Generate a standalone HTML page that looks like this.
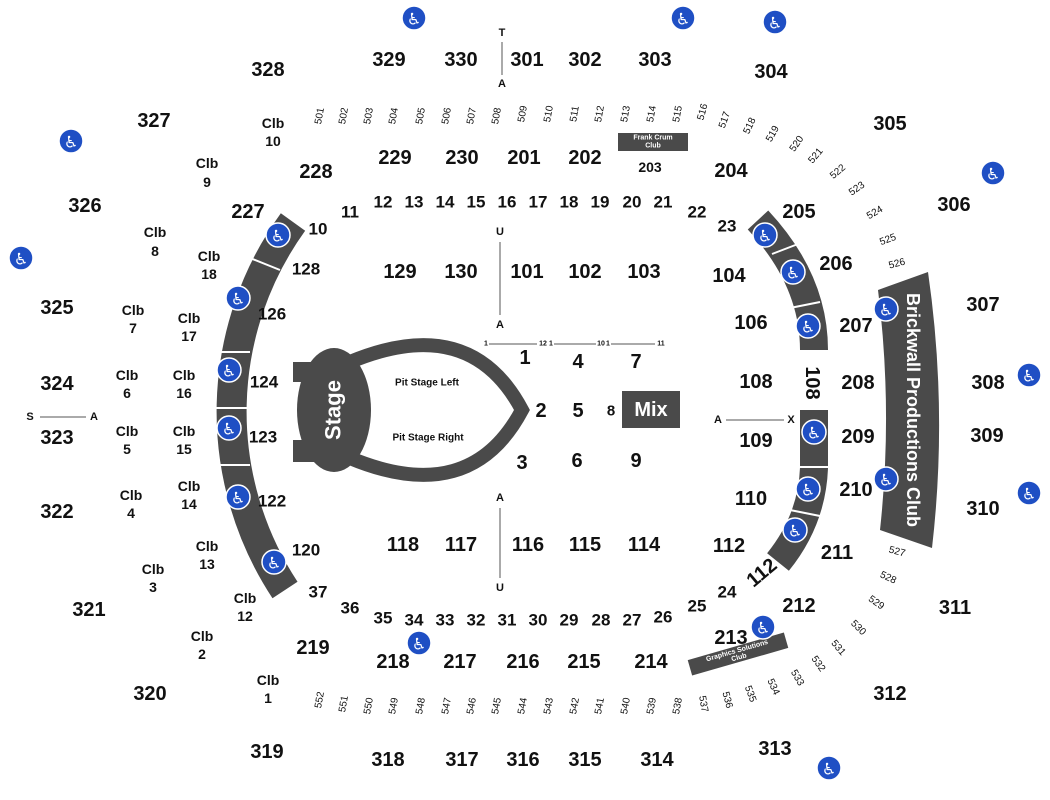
<!DOCTYPE html>
<html><head><meta charset="utf-8"><style>
body{margin:0;background:#fff}
svg{display:block;font-family:"Liberation Sans",Arial,sans-serif;font-weight:bold}
text{text-anchor:middle;dominant-baseline:central;fill:#111}
.b{font-size:20px}.m{font-size:17px}.s{font-size:14px}.x{font-size:10px;font-weight:normal}
.w{fill:#fff}
</style></head><body>
<svg width="1050" height="800" viewBox="0 0 1050 800" xmlns="http://www.w3.org/2000/svg">
<defs>
<g id="hc"><circle r="12" fill="#1f4fc4" stroke="#fff" stroke-width="1.5"/><text y="1" style="font-size:16px;font-weight:normal;fill:#fff;font-family:'DejaVu Sans',sans-serif">♿</text></g>
</defs>
<path d="M293 222 A324 324 0 0 0 285 590" fill="none" stroke="#4a4a4a" stroke-width="30"/>
<g stroke="#fff" stroke-width="2">
<line x1="250" y1="258" x2="280" y2="270"/><line x1="215" y1="352" x2="250" y2="352"/><line x1="215" y1="408" x2="250" y2="408"/><line x1="215" y1="465" x2="250" y2="465"/>
</g>
<path d="M758 220 Q814 280 814 350 M814 410 L814 468 Q812 520 778 562" fill="none" stroke="#4a4a4a" stroke-width="28"/>
<g stroke="#fff" stroke-width="2">
<line x1="772" y1="254" x2="798" y2="244"/><line x1="790" y1="308" x2="820" y2="302"/><line x1="798" y1="467" x2="830" y2="467"/><line x1="790" y1="510" x2="820" y2="516"/>
</g>
<path d="M878 290 L928 272 Q948 410 932 548 L880 530 Q893 410 878 290 Z" fill="#4a4a4a"/>
<text transform="translate(913,410) rotate(90)" class="m w" style="font-size:18px">Brickwall Productions Club</text>
<rect x="618" y="133" width="70" height="18" fill="#4a4a4a"/>
<text x="653" y="138" class="w" style="font-size:7px">Frank Crum</text><text x="653" y="146" class="w" style="font-size:7px">Club</text>
<g transform="translate(738,654) rotate(-16)"><rect x="-50" y="-8" width="100" height="16" fill="#4a4a4a"/>
<text y="-3" class="w" style="font-size:7px">Graphics Solutions</text><text y="4" class="w" style="font-size:7px">Club</text></g>
<path d="M350 362 Q470 312 522 410 Q470 508 350 458" fill="none" stroke="#4a4a4a" stroke-width="14"/>
<rect x="293" y="362" width="30" height="20" fill="#4a4a4a"/><rect x="293" y="440" width="30" height="22" fill="#4a4a4a"/>
<ellipse cx="334" cy="410" rx="37" ry="62" fill="#4a4a4a"/>
<text transform="translate(333,410) rotate(-90)" class="w" style="font-size:22px">Stage</text>
<text x="427" y="383" style="font-size:10px">Pit Stage Left</text>
<text x="428" y="438" style="font-size:10px">Pit Stage Right</text>
<rect x="622" y="391" width="58" height="37" fill="#4a4a4a"/><text x="651" y="410" class="w" style="font-size:20px">Mix</text>
<g stroke="#555" stroke-width="1">
<line x1="502" y1="42" x2="502" y2="75"/><line x1="500" y1="242" x2="500" y2="315"/><line x1="500" y1="508" x2="500" y2="578"/>
<line x1="40" y1="417" x2="86" y2="417"/><line x1="726" y1="420" x2="784" y2="420"/>
<line x1="489" y1="344" x2="537" y2="344"/><line x1="554" y1="344" x2="596" y2="344"/><line x1="611" y1="344" x2="655" y2="344"/>
</g>
<g style="font-size:11px">
<text x="502" y="33">T</text><text x="502" y="84">A</text><text x="500" y="232">U</text><text x="500" y="325">A</text><text x="500" y="498">A</text><text x="500" y="588">U</text>
<text x="30" y="417">S</text><text x="94" y="417">A</text><text x="718" y="420">A</text><text x="791" y="420">X</text>
</g>
<g style="font-size:7px"><text x="486" y="344">1</text><text x="543" y="344">12</text><text x="551" y="344">1</text><text x="601" y="344">10</text><text x="608" y="344">1</text><text x="661" y="344">11</text></g>
<g class="b">
<text x="268" y="70">328</text><text x="389" y="60">329</text><text x="461" y="60">330</text><text x="527" y="60">301</text><text x="585" y="60">302</text><text x="655" y="60">303</text><text x="771" y="72">304</text><text x="890" y="124">305</text><text x="954" y="205">306</text><text x="983" y="305">307</text><text x="988" y="383">308</text><text x="987" y="436">309</text><text x="983" y="509">310</text><text x="955" y="608">311</text><text x="890" y="694">312</text><text x="775" y="749">313</text><text x="657" y="760">314</text><text x="585" y="760">315</text><text x="523" y="760">316</text><text x="462" y="760">317</text><text x="388" y="760">318</text><text x="267" y="752">319</text><text x="150" y="694">320</text><text x="89" y="610">321</text><text x="57" y="512">322</text><text x="57" y="438">323</text><text x="57" y="384">324</text><text x="57" y="308">325</text><text x="85" y="206">326</text><text x="154" y="121">327</text>
<text x="316" y="172">228</text><text x="395" y="158">229</text><text x="462" y="158">230</text><text x="524" y="158">201</text><text x="585" y="158">202</text><text x="731" y="171">204</text><text x="799" y="212">205</text><text x="836" y="264">206</text><text x="856" y="326">207</text><text x="858" y="383">208</text><text x="858" y="437">209</text><text x="856" y="490">210</text><text x="837" y="553">211</text><text x="799" y="606">212</text><text x="731" y="638">213</text><text x="651" y="662">214</text><text x="584" y="662">215</text><text x="523" y="662">216</text><text x="460" y="662">217</text><text x="393" y="662">218</text><text x="313" y="648">219</text><text x="248" y="212">227</text>
<text x="400" y="272">129</text><text x="461" y="272">130</text><text x="527" y="272">101</text><text x="585" y="272">102</text><text x="644" y="272">103</text><text x="729" y="276">104</text><text x="751" y="323">106</text><text x="756" y="382">108</text><text transform="translate(812,383) rotate(90)">108</text><text x="756" y="441">109</text><text x="751" y="499">110</text><text x="729" y="546">112</text><text transform="translate(762,573) rotate(-40)">112</text><text x="644" y="545">114</text><text x="585" y="545">115</text><text x="528" y="545">116</text><text x="461" y="545">117</text><text x="403" y="545">118</text>
<text x="525" y="358">1</text><text x="578" y="362">4</text><text x="636" y="362">7</text><text x="541" y="411">2</text><text x="578" y="411">5</text><text x="522" y="463">3</text><text x="577" y="461">6</text><text x="636" y="461">9</text>
</g>
<text x="650" y="167" class="s">203</text>
<g class="m">
<text x="611" y="411" style="font-size:15px">8</text>
<text x="306" y="269">128</text><text x="272" y="314">126</text><text x="264" y="382">124</text><text x="263" y="437">123</text><text x="272" y="501">122</text><text x="306" y="550">120</text>
<text x="318" y="229">10</text><text x="350" y="212">11</text><text x="383" y="202">12</text><text x="414" y="202">13</text><text x="445" y="202">14</text><text x="476" y="202">15</text><text x="507" y="202">16</text><text x="538" y="202">17</text><text x="569" y="202">18</text><text x="600" y="202">19</text><text x="632" y="202">20</text><text x="663" y="202">21</text><text x="697" y="212">22</text><text x="727" y="226">23</text>
<text x="318" y="592">37</text><text x="350" y="608">36</text><text x="383" y="618">35</text><text x="414" y="620">34</text><text x="445" y="620">33</text><text x="476" y="620">32</text><text x="507" y="620">31</text><text x="538" y="620">30</text><text x="569" y="620">29</text><text x="601" y="620">28</text><text x="632" y="620">27</text><text x="663" y="617">26</text><text x="697" y="606">25</text><text x="727" y="592">24</text>
</g>
<g class="s">
<text x="273" y="123">Clb</text><text x="273" y="141">10</text><text x="207" y="163">Clb</text><text x="207" y="182">9</text><text x="155" y="232">Clb</text><text x="155" y="251">8</text><text x="209" y="256">Clb</text><text x="209" y="274">18</text><text x="133" y="310">Clb</text><text x="133" y="328">7</text><text x="189" y="318">Clb</text><text x="189" y="336">17</text><text x="127" y="375">Clb</text><text x="127" y="393">6</text><text x="184" y="375">Clb</text><text x="184" y="393">16</text><text x="127" y="431">Clb</text><text x="127" y="449">5</text><text x="184" y="431">Clb</text><text x="184" y="449">15</text><text x="131" y="495">Clb</text><text x="131" y="513">4</text><text x="189" y="486">Clb</text><text x="189" y="504">14</text><text x="153" y="569">Clb</text><text x="153" y="587">3</text><text x="207" y="546">Clb</text><text x="207" y="564">13</text><text x="202" y="636">Clb</text><text x="202" y="654">2</text><text x="245" y="598">Clb</text><text x="245" y="616">12</text><text x="268" y="680">Clb</text><text x="268" y="698">1</text>
</g>
<g class="x">
<text transform="translate(320,116) rotate(-80)">501</text><text transform="translate(344,116) rotate(-80)">502</text><text transform="translate(369,116) rotate(-80)">503</text><text transform="translate(394,116) rotate(-80)">504</text><text transform="translate(421,116) rotate(-80)">505</text><text transform="translate(447,116) rotate(-80)">506</text><text transform="translate(472,116) rotate(-80)">507</text><text transform="translate(497,116) rotate(-80)">508</text><text transform="translate(523,114) rotate(-80)">509</text><text transform="translate(549,114) rotate(-80)">510</text><text transform="translate(575,114) rotate(-80)">511</text><text transform="translate(600,114) rotate(-80)">512</text><text transform="translate(626,114) rotate(-80)">513</text><text transform="translate(652,114) rotate(-80)">514</text><text transform="translate(678,114) rotate(-80)">515</text><text transform="translate(703,112) rotate(-75)">516</text>
<text transform="translate(725,120) rotate(-70)">517</text><text transform="translate(750,126) rotate(-65)">518</text><text transform="translate(773,134) rotate(-60)">519</text><text transform="translate(797,144) rotate(-55)">520</text><text transform="translate(816,156) rotate(-50)">521</text><text transform="translate(838,172) rotate(-40)">522</text><text transform="translate(857,189) rotate(-35)">523</text><text transform="translate(875,213) rotate(-30)">524</text><text transform="translate(888,240) rotate(-20)">525</text><text transform="translate(897,264) rotate(-15)">526</text>
<text transform="translate(897,552) rotate(15)">527</text><text transform="translate(888,578) rotate(25)">528</text><text transform="translate(876,603) rotate(35)">529</text><text transform="translate(858,628) rotate(45)">530</text><text transform="translate(838,648) rotate(50)">531</text><text transform="translate(818,664) rotate(55)">532</text><text transform="translate(797,678) rotate(60)">533</text><text transform="translate(773,687) rotate(65)">534</text><text transform="translate(750,694) rotate(70)">535</text><text transform="translate(727,700) rotate(75)">536</text><text transform="translate(703,704) rotate(80)">537</text>
<text transform="translate(678,706) rotate(-80)">538</text><text transform="translate(652,706) rotate(-80)">539</text><text transform="translate(626,706) rotate(-80)">540</text><text transform="translate(600,706) rotate(-80)">541</text><text transform="translate(575,706) rotate(-80)">542</text><text transform="translate(549,706) rotate(-80)">543</text><text transform="translate(523,706) rotate(-80)">544</text><text transform="translate(497,706) rotate(-80)">545</text><text transform="translate(472,706) rotate(-80)">546</text><text transform="translate(447,706) rotate(-80)">547</text><text transform="translate(421,706) rotate(-80)">548</text><text transform="translate(394,706) rotate(-80)">549</text><text transform="translate(369,706) rotate(-80)">550</text><text transform="translate(344,704) rotate(-80)">551</text><text transform="translate(320,700) rotate(-80)">552</text>
</g>
<use href="#hc" x="414" y="18"/><use href="#hc" x="683" y="18"/><use href="#hc" x="775" y="22"/><use href="#hc" x="71" y="141"/><use href="#hc" x="993" y="173"/><use href="#hc" x="21" y="258"/><use href="#hc" x="1029" y="375"/><use href="#hc" x="1029" y="493"/><use href="#hc" x="829" y="768"/><use href="#hc" x="419" y="643"/><use href="#hc" x="763" y="627"/>
<use href="#hc" x="278" y="235"/><use href="#hc" x="238" y="298"/><use href="#hc" x="229" y="370"/><use href="#hc" x="229" y="428"/><use href="#hc" x="238" y="497"/><use href="#hc" x="274" y="562"/>
<use href="#hc" x="765" y="235"/><use href="#hc" x="793" y="272"/><use href="#hc" x="808" y="326"/><use href="#hc" x="814" y="432"/><use href="#hc" x="808" y="489"/><use href="#hc" x="795" y="530"/><use href="#hc" x="886" y="309"/><use href="#hc" x="886" y="479"/>
</svg>
</body></html>
